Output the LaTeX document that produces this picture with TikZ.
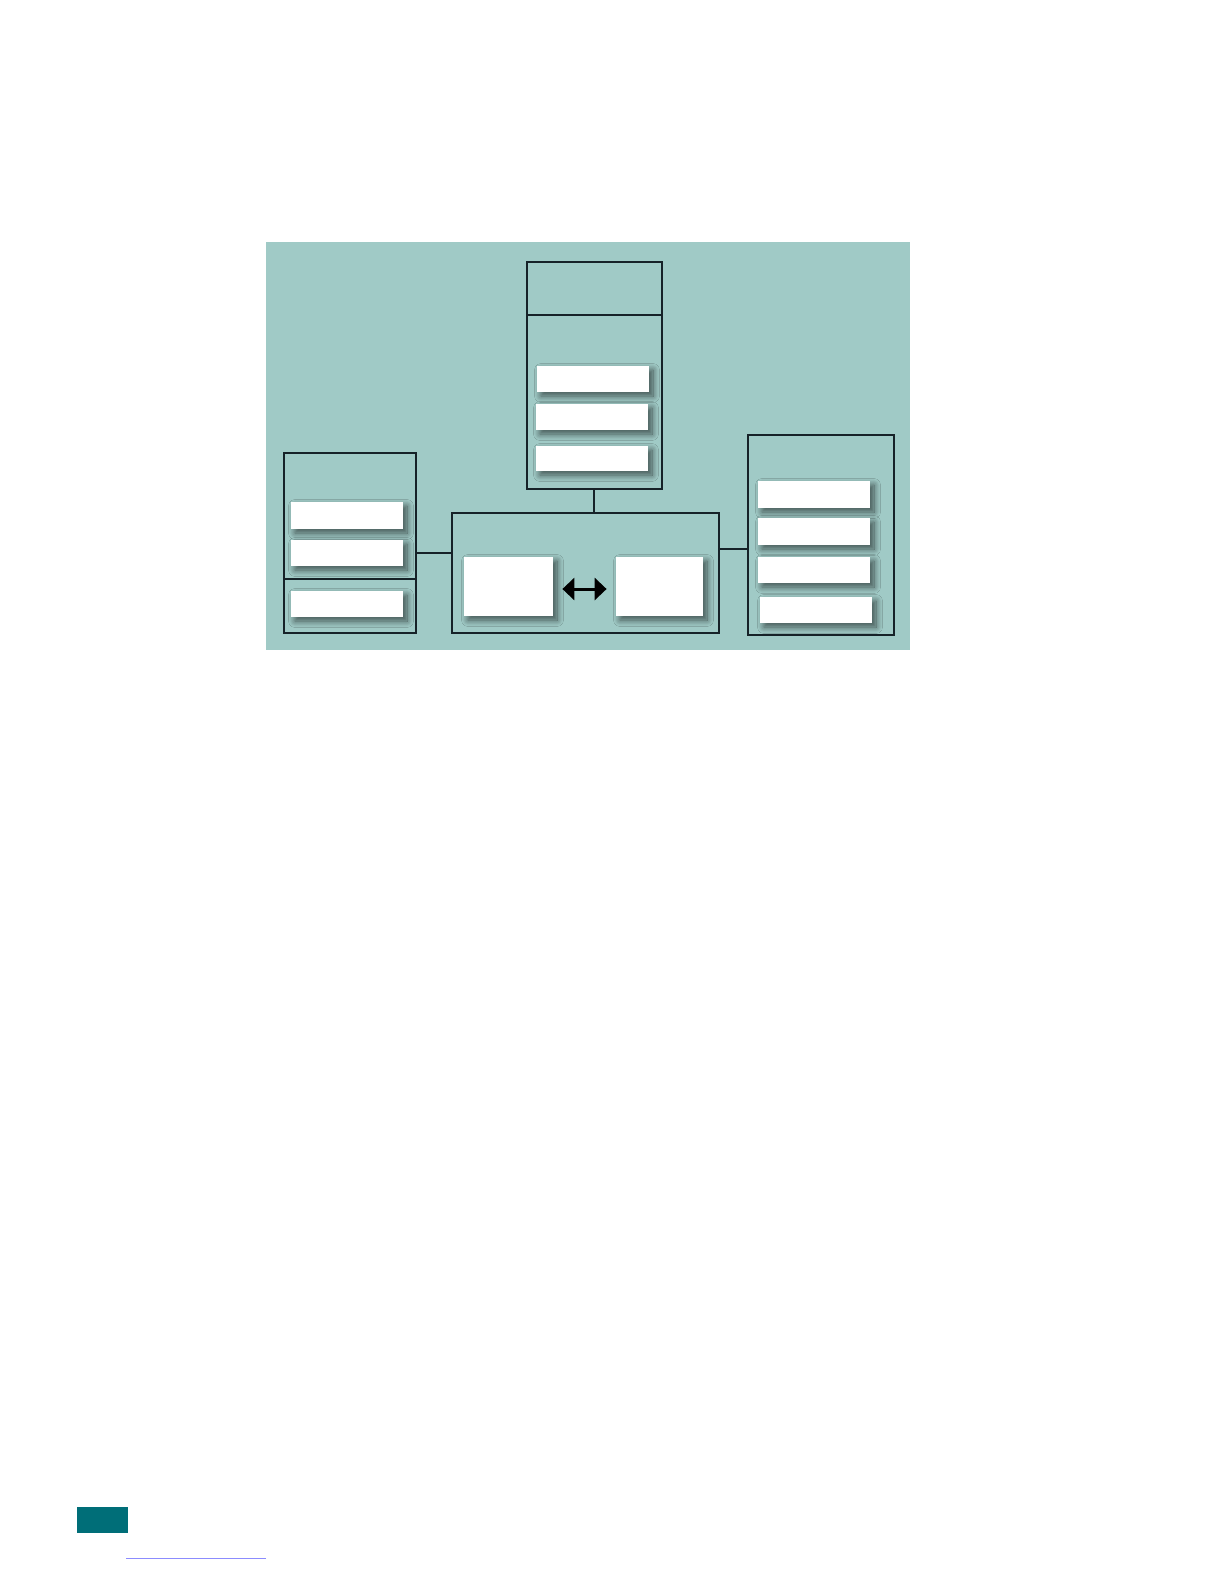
\documentclass[tikz,border=0pt]{standalone}
\usetikzlibrary{fit,arrows.meta,shadows.blur}
\definecolor{bgteal}{RGB}{160,202,198}
\definecolor{tabteal}{RGB}{0,110,120}
\definecolor{frameline}{RGB}{22,34,40}
\tikzset{
  frame/.style={draw=frameline, line width=0.6bp, inner sep=0pt},
  wbox/.style={fill=white, inner sep=0pt,
    blur shadow={shadow xshift=2bp, shadow yshift=-2bp, shadow blur radius=3.2bp, shadow opacity=60, shadow blur steps=12}},
  conn/.style={draw=frameline, line width=0.6bp},
  dbl/.style={draw=black, line width=1.5bp, {Triangle[length=6bp,width=11bp]}-{Triangle[length=6bp,width=11bp]}}
}
\begin{document}
\begin{tikzpicture}[x=0.5bp,y=-0.5bp]
\useasboundingbox (0,0) rectangle (1224,1584);
% background panel
\node[fill=bgteal, inner sep=0pt, fit={(266,242)(910,650)}] (bg) {};
% top box
\node[frame, fit={(527,262)(662,489)}] (top) {};
\draw[conn] (top.west |- 0,315) -- (top.east |- 0,315);
\node[wbox, fit={(537,366)(649,392)}] (t1) {};
\node[wbox, fit={(536,404)(648,430)}] (t2) {};
\node[wbox, fit={(536,446)(648,471)}] (t3) {};
% middle box
\node[frame, fit={(452,513)(719,633)}] (mid) {};
\node[wbox, fit={(464,557)(553,616)}] (mL) {};
\node[wbox, fit={(616,557)(703,616)}] (mR) {};
\draw[dbl, shorten <=4.5bp, shorten >=4.5bp] (mL.east |- 0,589) -- (mR.west |- 0,589);
% left box
\node[frame, fit={(284,453)(416,633)}] (left) {};
\draw[conn] (left.west |- 0,579) -- (left.east |- 0,579);
\node[wbox, fit={(291,502)(403,529)}] (l1) {};
\node[wbox, fit={(291,540)(403,566)}] (l2) {};
\node[wbox, fit={(291,591)(403,617)}] (l3) {};
% right box
\node[frame, line width=0.75bp, fit={(748,435)(894,635)}] (right) {};
\node[wbox, fit={(758,481)(870,508)}] (r1) {};
\node[wbox, fit={(758,518)(870,545)}] (r2) {};
\node[wbox, fit={(758,557)(870,583)}] (r3) {};
\node[wbox, fit={(760,597)(872,623)}] (r4) {};
% connectors
\draw[conn, line width=0.8bp] (top.south -| 594,0) -- (mid.north -| 594,0);
\draw[conn] (left.east |- 0,553) -- (mid.west |- 0,553);
\draw[conn] (mid.east |- 0,549) -- (right.west |- 0,549);
% page footer tab and rule
\node[fill=tabteal, inner sep=0pt, fit={(77,1507)(128,1533)}] (tab) {};
\coordinate (ruleA) at (126,1558);
\coordinate (ruleB) at (266,1558);
\draw[draw=blue!45, line width=0.4bp] (ruleA) -- (ruleB);
\end{tikzpicture}
\end{document}
